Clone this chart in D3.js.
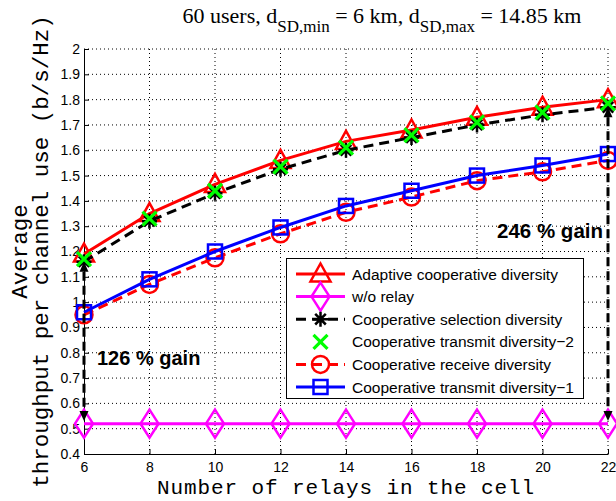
<!DOCTYPE html>
<html>
<head>
<meta charset="utf-8">
<script src="https://cdn.jsdelivr.net/npm/d3@7/dist/d3.min.js"></script>
<style>
  html, body { margin: 0; padding: 0; background: #fff; }
  svg { display: block; }
</style>
</head>
<body>
<svg id="chart" width="616" height="501"></svg>
<script>
// Number of relays per cell
const relays = [6, 8, 10, 12, 14, 16, 18, 20, 22];

// Average throughput (b/s/Hz) per scheme
const adaptive      = [1.19, 1.35, 1.465, 1.56, 1.635, 1.68, 1.73, 1.77, 1.80];
const noRelay       = [0.52, 0.52, 0.52, 0.52, 0.52, 0.52, 0.52, 0.52, 0.52];
const selection     = [1.16, 1.32, 1.43, 1.525, 1.60, 1.65, 1.70, 1.74, 1.77];
const transmit2     = [1.17, 1.33, 1.44, 1.535, 1.61, 1.66, 1.71, 1.75, 1.785];
const receive       = [0.95, 1.07, 1.175, 1.27, 1.355, 1.415, 1.48, 1.515, 1.56];
const transmit1     = [0.96, 1.09, 1.20, 1.295, 1.38, 1.44, 1.50, 1.54, 1.585];

// Axis ticks
const xTicks = [6, 8, 10, 12, 14, 16, 18, 20, 22];
const yTicks = [0.4, 0.5, 0.6, 0.7, 0.8, 0.9, 1.0, 1.1, 1.2, 1.3, 1.4, 1.5, 1.6, 1.7, 1.8, 1.9, 2.0];
const yTickLabels = ["0.4","0.5","0.6","0.7","0.8","0.9","1","1.1","1.2","1.3","1.4","1.5","1.6","1.7","1.8","1.9","2"];

// Gain arrows: relay count, upper end, lower end
const gainX     = [6, 22];
const gainTop   = [1.16, 1.77];
const gainBot   = [0.53, 0.53];
const gainLabel = ["126 % gain", "246 % gain"];

const series = [
  { name: "Adaptive cooperative diversity",     values: adaptive,  color: "#ff0000", dash: null,   line: true,  marker: "triangle" },
  { name: "w/o relay",                          values: noRelay,   color: "#ff00ff", dash: null,   line: true,  marker: "diamond" },
  { name: "Cooperative selection diversity",    values: selection, color: "#000000", dash: "10,6", line: true,  marker: "asterisk" },
  { name: "Cooperative transmit diversity\u22122", values: transmit2, color: "#00ff00", dash: null, line: false, marker: "cross" },
  { name: "Cooperative receive diversity",      values: receive,   color: "#ff0000", dash: "10,6", line: true,  marker: "circle" },
  { name: "Cooperative transmit diversity\u22121", values: transmit1, color: "#0000ff", dash: null, line: true,  marker: "square" }
];

const W = 616, H = 501;
const margin = { top: 49, right: 8, bottom: 47, left: 84 };
const svg = d3.select("#chart");

const x = d3.scaleLinear().domain([6, 22]).range([margin.left, W - margin.right]);
const y = d3.scaleLinear().domain([0.4, 2]).range([H - margin.bottom, margin.top]);

// Dotted grid
const grid = svg.append("g").attr("stroke", "#000").attr("stroke-width", 1)
  .attr("stroke-dasharray", "1,3").attr("fill", "none");
grid.selectAll("line.gx").data(xTicks.slice(1)).join("line")
  .attr("x1", d => x(d)).attr("x2", d => x(d))
  .attr("y1", y(0.4)).attr("y2", y(2));
grid.selectAll("line.gy").data(yTicks.slice(1)).join("line")
  .attr("x1", x(6)).attr("x2", x(22))
  .attr("y1", d => y(d)).attr("y2", d => y(d));

// Axes with inward ticks
const yAxis = d3.axisLeft(y).tickValues(yTicks)
  .tickFormat((d, i) => yTickLabels[i]).tickSizeInner(-5).tickSizeOuter(0).tickPadding(4);
const xAxis = d3.axisBottom(x).tickValues(xTicks)
  .tickFormat(d => String(d)).tickSizeInner(-5).tickSizeOuter(0).tickPadding(8);

const gy = svg.append("g").attr("transform", `translate(${margin.left},0)`).call(yAxis);
const gx = svg.append("g").attr("transform", `translate(0,${H - margin.bottom})`).call(xAxis);
[gx, gy].forEach(g => {
  g.selectAll("text").attr("font-family", "Liberation Sans, Arial, sans-serif")
    .attr("font-size", 14).attr("fill", "#000");
  g.selectAll("path, line").attr("stroke", "#000").attr("stroke-width", 1);
});

// Marker drawing
function drawMarker(g, type, cx, cy, color) {
  const sw = 2.5;
  if (type === "triangle") {
    g.append("path").attr("d", `M${cx},${cy - 10.5}L${cx + 10},${cy + 7.5}L${cx - 10},${cy + 7.5}Z`)
      .attr("fill", "none").attr("stroke", color).attr("stroke-width", sw).attr("stroke-linejoin", "miter");
  } else if (type === "diamond") {
    g.append("path").attr("d", `M${cx},${cy - 14}L${cx + 9},${cy}L${cx},${cy + 14}L${cx - 9},${cy}Z`)
      .attr("fill", "none").attr("stroke", color).attr("stroke-width", sw);
  } else if (type === "circle") {
    g.append("circle").attr("cx", cx).attr("cy", cy).attr("r", 8.5)
      .attr("fill", "none").attr("stroke", color).attr("stroke-width", sw);
  } else if (type === "square") {
    g.append("rect").attr("x", cx - 7).attr("y", cy - 7).attr("width", 14).attr("height", 14)
      .attr("fill", "none").attr("stroke", color).attr("stroke-width", sw);
  } else if (type === "cross") {
    const a = 7;
    g.append("path").attr("d", `M${cx - a},${cy - a}L${cx + a},${cy + a}M${cx - a},${cy + a}L${cx + a},${cy - a}`)
      .attr("stroke", color).attr("stroke-width", 3.2).attr("fill", "none");
  } else if (type === "asterisk") {
    const a = 7.5, b = 5.3;
    g.append("path").attr("d",
      `M${cx},${cy - a}L${cx},${cy + a}M${cx - a},${cy}L${cx + a},${cy}` +
      `M${cx - b},${cy - b}L${cx + b},${cy + b}M${cx - b},${cy + b}L${cx + b},${cy - b}`)
      .attr("stroke", color).attr("stroke-width", 2.5).attr("fill", "none");
  }
}

// Series
const plot = svg.append("g");
const lineGen = d3.line().x((d, i) => x(relays[i])).y(d => y(d));
series.forEach(s => {
  const g = plot.append("g");
  if (s.line) {
    g.append("path").attr("d", lineGen(s.values))
      .attr("fill", "none").attr("stroke", s.color).attr("stroke-width", 3)
      .attr("stroke-dasharray", s.dash).attr("stroke-linejoin", "round");
  }
  s.values.forEach((v, i) => drawMarker(g, s.marker, x(relays[i]), y(v), s.color));
});

// Gain arrows
const arrows = svg.append("g");
gainX.forEach((gxv, i) => {
  const px = x(gxv), yt = y(gainTop[i]), yb = y(gainBot[i]);
  const L = 10, hw = 4.5;
  arrows.append("line").attr("x1", px).attr("x2", px).attr("y1", yt + L).attr("y2", yb - L)
    .attr("stroke", "#000").attr("stroke-width", 3).attr("stroke-dasharray", "9,5");
  arrows.append("path").attr("d", `M${px},${yt}L${px + hw},${yt + L}L${px - hw},${yt + L}Z`).attr("fill", "#000");
  arrows.append("path").attr("d", `M${px},${yb}L${px + hw},${yb - L}L${px - hw},${yb - L}Z`).attr("fill", "#000");
});

// Gain labels
svg.append("text").attr("x", x(6) + 13).attr("y", y(0.78) + 7)
  .attr("font-family", "Liberation Sans, Arial, sans-serif").attr("font-weight", "bold")
  .attr("font-size", 20).text(gainLabel[0]);
svg.append("text").attr("x", x(22) - 5).attr("y", y(1.28) + 7).attr("text-anchor", "end")
  .attr("font-family", "Liberation Sans, Arial, sans-serif").attr("font-weight", "bold")
  .attr("font-size", 20.5).text(gainLabel[1]);

// Legend
const lg = svg.append("g");
lg.append("rect").attr("x", 286.5).attr("y", 258.5).attr("width", 297).attr("height", 140)
  .attr("fill", "#fff").attr("stroke", "#000").attr("stroke-width", 1);
series.forEach((s, i) => {
  const ry = 274 + i * 22.6;
  if (s.line) {
    lg.append("line").attr("x1", 296).attr("x2", 345).attr("y1", ry).attr("y2", ry)
      .attr("stroke", s.color).attr("stroke-width", 3).attr("stroke-dasharray", s.dash);
  }
  drawMarker(lg, s.marker, 320.5, ry, s.color);
  lg.append("text").attr("x", 352).attr("y", ry).attr("dy", "0.36em")
    .attr("font-family", "Liberation Sans, Arial, sans-serif").attr("font-size", 15.5)
    .text(s.name);
});

// Axis titles
svg.append("text").attr("x", (x(6) + x(22)) / 2).attr("y", 494).attr("text-anchor", "middle")
  .attr("font-family", "Liberation Mono, Courier New, monospace").attr("font-size", 21)
  .attr("letter-spacing", 0.9)
  .text("Number of relays in the cell");
const cy = (y(0.4) + y(2)) / 2;
svg.append("text").attr("transform", `translate(27,${cy}) rotate(-90)`).attr("text-anchor", "middle")
  .attr("font-family", "Liberation Mono, Courier New, monospace").attr("font-size", 22.5)
  .text("Average");
svg.append("text").attr("transform", `translate(48,${cy}) rotate(-90)`).attr("text-anchor", "middle")
  .attr("font-family", "Liberation Mono, Courier New, monospace").attr("font-size", 22.5)
  .text("throughput per channel use (b/s/Hz)");

// Title with subscripts
const title = svg.append("text").attr("x", 382).attr("y", 23).attr("text-anchor", "middle")
  .attr("font-family", "Liberation Serif, Times New Roman, serif").attr("font-size", 22);
title.append("tspan").text("60 users, d");
title.append("tspan").attr("font-size", 17).attr("dy", 9).text("SD,min");
title.append("tspan").attr("dy", -9).text(" = 6 km, d");
title.append("tspan").attr("font-size", 17).attr("dy", 9).text("SD,max");
title.append("tspan").attr("dy", -9).text(" = 14.85 km");
</script>
</body>
</html>
